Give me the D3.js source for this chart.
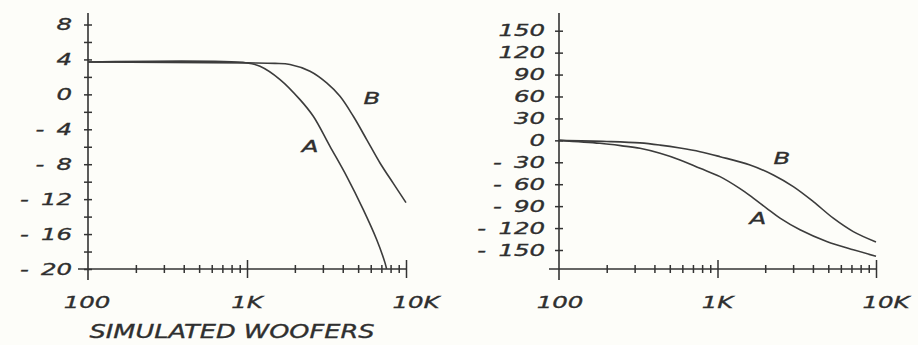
<!DOCTYPE html>
<html>
<head>
<meta charset="utf-8">
<script src="https://cdn.jsdelivr.net/npm/d3@7"></script>
<style>
  html, body { margin: 0; padding: 0; background: #fdfdf9; }
  svg { display: block; }
  text { font-family: "DejaVu Sans", sans-serif; font-style: oblique; fill: #2f2f2f;
         stroke: #2f2f2f; stroke-width: 0.35px; }
</style>
</head>
<body>
<svg id="chart" width="918" height="345"></svg>
<script>
// Amplitude response (dB) of the two simulated woofers
const ampFreqA = [100, 1000, 1207, 1614, 2155, 2612, 3326, 4237, 5387, 6545, 7380, 7550];
const ampA     = [3.7, 3.6, 3.22, 1.7, -0.6, -2.51, -5.95, -9.39, -13.2, -16.65, -19.3, -20];
const ampFreqB = [100, 1000, 1500, 1864, 2490, 3171, 3845, 4663, 5660, 6863, 8321, 10000];
const ampB     = [3.7, 3.6, 3.55, 3.42, 2.65, 1.32, -0.22, -2.51, -5.18, -7.86, -10.2, -12.4];

// Phase response (degrees)
const phFreqA = [100, 181, 250, 324, 434, 580, 776, 1037, 1387, 1682, 2044, 2480, 3316, 4887, 7190, 10000];
const phA     = [0, -4, -7.5, -10.9, -17.7, -26.8, -38.2, -49.6, -66, -79, -93, -106.5, -122.4, -138.4, -149.8, -158.5];
const phFreqB = [100, 200, 324, 434, 580, 776, 1037, 1604, 2250, 3008, 4022, 5377, 7190, 10000];
const phB     = [0, -1.5, -3.5, -6.5, -10.5, -15.5, -22.3, -33.7, -47.3, -63.3, -83.8, -106.5, -124.8, -139];

// Axis ticks
const ampTicks = [8, 4, 0, -4, -8, -12, -16, -20];
const ampMinorTicks = [6, 2, -2, -6, -10, -14, -18];
const phTicks = [150, 120, 90, 60, 30, 0, -30, -60, -90, -120, -150];
const freqMinor = [200, 300, 400, 500, 600, 700, 800, 900, 2000, 3000, 4000, 5000, 6000, 7000, 8000, 9000];
const freqMajor = [1000, 10000];
const freqLabels = ["100", "1K", "10K"];
const freqLabelValues = [100, 1000, 10000];
const curveLabels = ["A", "B"];
const caption = "SIMULATED WOOFERS";

const ink = "#333";
const fontSize = 16.5;
const widen = 1.48;   // hand lettering runs wider than the installed face
const svg = d3.select("#chart");

function fmtSigned(v) {
  return v < 0 ? "-\u2002" + Math.abs(v) : String(v);
}

function panel(opts) {
  const g = svg.append("g");
  const x = d3.scaleLog().domain([100, 10000]).range(opts.xRange);
  const y = d3.scaleLinear().domain(opts.yDomain).range(opts.yRange);
  const axisY = opts.axisY;

  // vertical axis line, running past the plotted range
  g.append("line")
    .attr("x1", x(100)).attr("x2", x(100))
    .attr("y1", 13).attr("y2", 280)
    .attr("stroke", ink).attr("stroke-width", 1.6);

  // horizontal axis line
  g.append("line")
    .attr("x1", x(100) - 10).attr("x2", x(10000))
    .attr("y1", axisY).attr("y2", axisY)
    .attr("stroke", ink).attr("stroke-width", 1.6);

  // y ticks cross the axis: left halves carry the labels
  const yLeft = d3.axisLeft(y).tickValues(opts.yTicks).tickSize(4)
    .tickPadding(opts.labelPad).tickFormat(fmtSigned);
  const yRight = d3.axisRight(y).tickValues(opts.yTicks.concat(opts.yMinor || []))
    .tickSize(4).tickFormat("");
  const yLeftMinor = d3.axisLeft(y).tickValues(opts.yMinor || []).tickSize(4).tickFormat("");

  [yLeft, yRight, yLeftMinor].forEach(ax => {
    const a = g.append("g").attr("transform", `translate(${x(100)},0)`).call(ax);
    a.select(".domain").remove();
    a.selectAll(".tick line").attr("stroke", ink).attr("stroke-width", 1.5);
    a.selectAll(".tick text")
      .attr("class", "stretch")
      .attr("font-family", null)
      .attr("font-size", fontSize)
      .attr("fill", "#2f2f2f");
  });

  // frequency ticks crossing the horizontal axis
  const xMinorDown = d3.axisBottom(x).tickValues(freqMinor).tickSize(4).tickFormat("");
  const xMinorUp = d3.axisTop(x).tickValues(freqMinor).tickSize(4).tickFormat("");
  const xMajorDown = d3.axisBottom(x).tickValues(freqMajor).tickSize(9).tickFormat("");
  const xMajorUp = d3.axisTop(x).tickValues(freqMajor).tickSize(9).tickFormat("");
  [xMinorDown, xMinorUp, xMajorDown, xMajorUp].forEach(ax => {
    const a = g.append("g").attr("transform", `translate(0,${axisY})`).call(ax);
    a.select(".domain").remove();
    a.selectAll(".tick line").attr("stroke", ink).attr("stroke-width", 1.5);
  });

  // frequency labels
  g.selectAll(".flabel").data(freqLabelValues).enter().append("text")
    .attr("class", "stretch")
    .attr("x", (d, i) => x(d) + opts.labelShift[i])
    .attr("y", axisY + 39)
    .attr("text-anchor", "middle")
    .attr("font-size", fontSize)
    .text((d, i) => freqLabels[i]);

  // response curves
  const line = d3.line().x(d => x(d[0])).y(d => y(d[1])).curve(d3.curveCatmullRom.alpha(0.5));
  opts.series.forEach(s => {
    g.append("path")
      .datum(d3.zip(s.f, s.v))
      .attr("d", line)
      .attr("fill", "none")
      .attr("stroke", "#3c3c3c")
      .attr("stroke-width", 1.6);
    g.append("text")
      .attr("class", "stretch")
      .attr("x", x(s.labelAt[0])).attr("y", y(s.labelAt[1]))
      .attr("text-anchor", "middle")
      .attr("dy", "0.36em")
      .attr("font-size", fontSize)
      .text(s.name);
  });
  return { x, y };
}

panel({
  xRange: [88, 406],
  yDomain: [-20, 8],
  yRange: [269, 24.5],
  axisY: 269,
  yTicks: ampTicks,
  yMinor: ampMinorTicks,
  labelPad: 12,
  labelShift: [-1, 0, 10],
  series: [
    { name: curveLabels[0], f: ampFreqA, v: ampA, labelAt: [2493, -5.87] },
    { name: curveLabels[1], f: ampFreqB, v: ampB, labelAt: [6100, -0.48] }
  ]
});

panel({
  xRange: [559, 876],
  yDomain: [-150, 150],
  yRange: [250, 30.7],
  axisY: 269,
  yTicks: phTicks,
  labelPad: 10,
  labelShift: [1, 0, 10],
  series: [
    { name: curveLabels[0], f: phFreqA, v: phA, labelAt: [1800, -106] },
    { name: curveLabels[1], f: phFreqB, v: phB, labelAt: [2550, -24] }
  ]
});

// caption under the amplitude panel
svg.append("text")
  .attr("x", 232).attr("y", 338)
  .attr("text-anchor", "middle")
  .attr("font-size", 20)
  .attr("textLength", 285)
  .attr("lengthAdjust", "spacingAndGlyphs")
  .text(caption);

// widen the lettering of every label
svg.selectAll("text.stretch").each(function () {
  const len = this.getComputedTextLength();
  d3.select(this)
    .attr("textLength", len * widen)
    .attr("lengthAdjust", "spacingAndGlyphs");
});
</script>
</body>
</html>
